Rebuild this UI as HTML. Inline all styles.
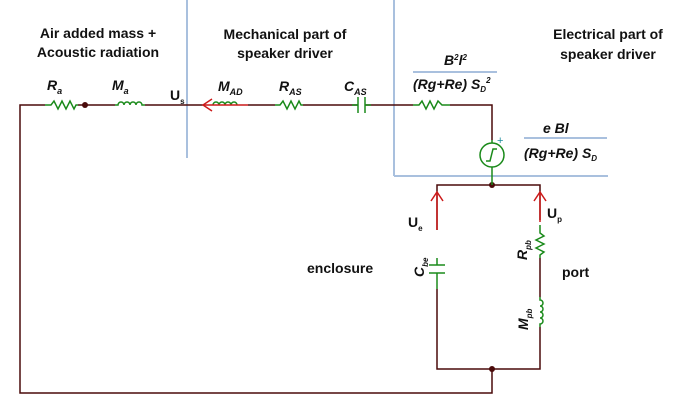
<!DOCTYPE html>
<html><head><meta charset="utf-8"><style>
body{margin:0;background:#fff;width:684px;height:413px;overflow:hidden}
svg{display:block}
text{font-family:"Liberation Sans",sans-serif;font-weight:bold;fill:#111}
.t{font-size:14px}
.i{font-style:italic}
</style></head><body>
<svg width="684" height="413" viewBox="0 0 684 413">
<g stroke="#a9c0de" stroke-width="2" fill="none">
<line x1="187" y1="0" x2="187" y2="158"/>
<line x1="394" y1="0" x2="394" y2="176"/>
<line x1="394" y1="176" x2="608" y2="176"/>
<line x1="413" y1="72" x2="497" y2="72"/>
<line x1="524" y1="138" x2="607" y2="138"/>
</g>
<g stroke="#4a0a0a" stroke-width="1.5" fill="none">
<polyline points="45,105 20,105 20,393 492,393 492,369"/>
<line x1="78" y1="105" x2="115" y2="105"/>
<line x1="145" y1="105" x2="203" y2="105"/>
<line x1="248" y1="105" x2="275" y2="105"/>
<line x1="303" y1="105" x2="358" y2="105"/>
<line x1="365" y1="105" x2="413" y2="105"/>
<polyline points="450,105 492,105 492,140"/>
<polyline points="437,230 437,185 540,185 540,220"/>
<polyline points="437,289 437,369 540,369 540,327"/>
<line x1="540" y1="258" x2="540" y2="297"/>
</g>
<g fill="#4a0a0a"><circle cx="85" cy="105" r="3"/><circle cx="492" cy="185" r="3"/><circle cx="492" cy="369" r="3"/></g>
<g stroke="#1a8a1a" stroke-width="1.5" fill="none">
<polyline points="45,105 51,105 54,101 58,109 62,101 66,109 70,101 74,109 76,105 78,105"/>
<path d="M115,105 h3 a3,3 0 0 1 6,0 a3,3 0 0 1 6,0 a3,3 0 0 1 6,0 a3,3 0 0 1 6,0 h3"/>
<path d="M213,105 a3,3 0 0 1 6,0 a3,3 0 0 1 6,0 a3,3 0 0 1 6,0 a3,3 0 0 1 6,0"/>
<polyline points="275,105 280,105 283,101 287,109 291,101 295,109 299,101 301,105 303,105"/>
<line x1="358" y1="97" x2="358" y2="113"/><line x1="365" y1="97" x2="365" y2="113"/>
<line x1="352" y1="105" x2="358" y2="105"/><line x1="365" y1="105" x2="371" y2="105"/>
<polyline points="413,105 419,105 422,101 426,109 430,101 434,109 438,101 442,105 450,105"/>
<line x1="492" y1="140" x2="492" y2="143"/><circle cx="492" cy="155" r="12"/>
<line x1="492" y1="167" x2="492" y2="185"/>
<path d="M486,161 h4 l3,-12 h4"/>
<line x1="429" y1="265" x2="445" y2="265"/><line x1="429" y1="273" x2="445" y2="273"/>
<line x1="437" y1="273" x2="437" y2="289"/><line x1="437" y1="258" x2="437" y2="265"/>
<polyline points="540,225 540,233 544,236 536,240 544,244 536,248 544,252 540,255 540,258"/>
<path d="M540,297 v3 a3,3 0 0 1 0,6 a3,3 0 0 1 0,6 a3,3 0 0 1 0,6 a3,3 0 0 1 0,6 v3"/>
</g>
<text x="497" y="144" style="font-size:11px;fill:#1a8a9a;font-weight:normal">+</text>
<g stroke="#cc1a1a" stroke-width="1.5" fill="none">
<line x1="203" y1="105" x2="248" y2="105"/><polyline points="212,99 203,105 212,111"/>
<line x1="437" y1="230" x2="437" y2="192"/><polyline points="431,201 437,192 443,201"/>
<line x1="540" y1="222" x2="540" y2="192"/><polyline points="534,201 540,192 546,201"/>
</g>
<g class="t" text-anchor="middle">
<text x="98" y="38">Air added mass +</text>
<text x="98" y="57">Acoustic radiation</text>
<text x="285" y="39">Mechanical part of</text>
<text x="285" y="58">speaker driver</text>
<text x="608" y="39">Electrical part of</text>
<text x="608" y="59">speaker driver</text>
</g>
<g class="t i">
<text x="47" y="90">R<tspan font-size="9" dy="4">a</tspan></text>
<text x="112" y="90">M<tspan font-size="9" dy="4">a</tspan></text>
<text x="218" y="91">M<tspan font-size="9" dy="4">AD</tspan></text>
<text x="279" y="91">R<tspan font-size="9" dy="4">AS</tspan></text>
<text x="344" y="91">C<tspan font-size="9" dy="4">AS</tspan></text>
<text x="444" y="65">B<tspan font-size="8" dy="-5">2</tspan><tspan dy="5">l</tspan><tspan font-size="8" dy="-5">2</tspan></text>
<text x="413" y="89">(Rg+Re) S<tspan font-size="8" dy="3">D</tspan><tspan font-size="8" dy="-9">2</tspan></text>
<text x="543" y="133">e Bl</text>
<text x="524" y="158">(Rg+Re) S<tspan font-size="8" dy="3">D</tspan></text>
</g>
<g class="t">
<text x="170" y="100">U<tspan font-size="8" dy="4">s</tspan></text>
<text x="408" y="227">U<tspan font-size="8" dy="4">e</tspan></text>
<text x="547" y="218">U<tspan font-size="8" dy="4">p</tspan></text>
<text x="307" y="273">enclosure</text>
<text x="562" y="277">port</text>
<text class="i" transform="translate(424,277) rotate(-90)">C<tspan font-size="8" dy="4">be</tspan></text>
<text class="i" transform="translate(527,260) rotate(-90)">R<tspan font-size="8" dy="4">pb</tspan></text>
<text class="i" transform="translate(528,330) rotate(-90)">M<tspan font-size="8" dy="4">pb</tspan></text>
</g>
</svg>
</body></html>
